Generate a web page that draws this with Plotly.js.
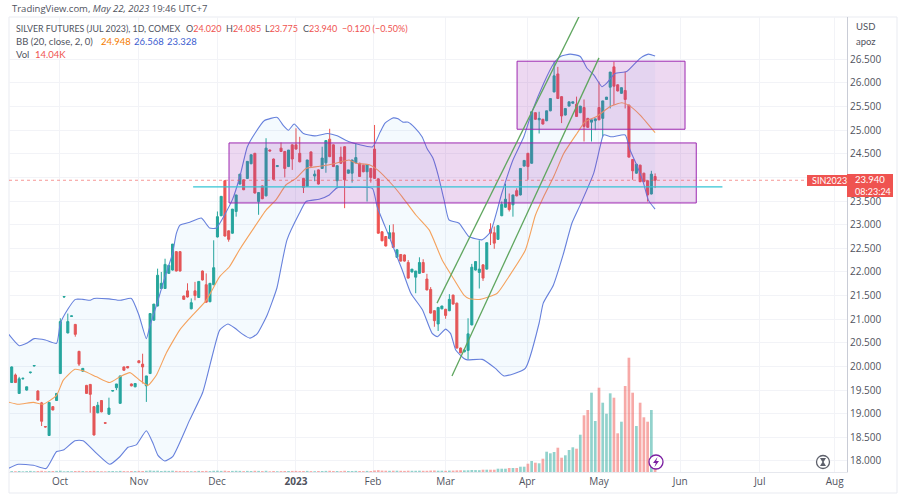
<!DOCTYPE html>
<html><head><meta charset="utf-8">
<script src="https://cdn.plot.ly/plotly-3.0.1.min.js"></script>
<style>html,body{margin:0;padding:0;background:#fff}#c{width:900px;height:500px}</style>
</head><body><div id="c"></div>
<script>
const opens=[19.66,19.82,19.43,19.74,19.50,19.87,20.01,19.48,19.23,18.73,18.54,19.15,19.28,19.85,21.47,20.71,21.06,20.89,20.32,19.90,
19.60,19.62,19.15,19.02,19.28,18.81,18.99,19.48,19.55,19.22,19.99,20.00,19.63,19.57,20.12,20.05,19.59,19.85,20.98,21.28,
21.65,21.65,21.97,22.04,22.43,22.43,21.49,21.60,21.22,21.60,21.46,22.02,21.73,21.37,21.73,22.74,23.19,23.93,22.87,22.82,
23.28,23.86,23.95,23.98,24.29,24.51,23.49,23.82,23.61,24.58,24.39,24.23,24.62,24.55,24.23,24.69,24.69,24.51,23.98,23.81,
24.54,24.03,24.16,24.19,24.31,24.81,24.69,23.93,24.43,24.65,24.09,24.09,24.31,24.30,24.26,24.12,24.19,24.60,23.97,22.85,
22.75,22.71,22.83,22.31,22.37,22.36,22.20,22.00,21.89,21.97,22.20,21.85,21.63,21.18,20.90,21.22,21.21,21.18,21.51,21.34,
20.39,20.31,20.34,20.88,22.04,21.99,22.15,22.06,22.90,22.83,22.69,23.19,23.37,23.47,23.42,23.72,23.63,24.24,24.51,24.30,
25.37,25.22,25.23,25.20,25.41,25.81,26.19,25.71,25.32,25.51,25.57,25.55,25.37,25.48,25.25,25.17,25.20,25.48,25.25,25.65,
25.91,26.34,25.96,25.78,25.84,25.53,24.38,24.09,24.26,24.09,23.93,23.65,24.02];
const highs=[20.00,19.85,19.78,19.76,19.57,19.88,20.03,19.50,19.25,18.74,19.24,19.16,19.43,21.02,21.48,21.12,21.07,20.90,20.33,19.96,
19.61,19.63,19.16,19.25,19.29,18.82,19.34,19.50,19.63,19.80,20.00,20.01,19.64,19.64,20.13,20.27,19.80,21.12,21.32,22.07,
22.00,22.28,22.14,22.59,22.44,22.44,21.50,21.76,21.44,21.79,21.80,22.03,21.97,21.76,22.67,23.28,23.60,23.94,22.88,23.33,
23.63,24.07,23.96,24.34,24.48,24.52,23.68,23.83,24.83,24.59,24.40,24.26,24.74,24.56,24.58,24.70,25.04,24.86,23.99,24.37,
24.55,24.15,24.17,24.65,24.78,25.03,24.70,24.25,24.65,24.66,24.16,24.37,24.72,24.31,24.27,24.27,24.20,25.11,23.98,22.86,
22.76,22.99,23.01,22.47,22.38,22.37,22.25,22.06,22.02,22.31,22.27,21.96,21.68,21.19,21.25,21.28,21.22,21.53,21.52,21.35,
20.40,20.35,21.02,22.17,22.22,22.67,22.16,22.62,23.03,22.96,22.98,23.49,23.87,23.66,23.63,23.77,24.19,24.36,24.52,25.39,
25.38,25.39,25.24,25.41,25.67,26.45,26.34,25.72,25.46,25.60,25.60,25.71,25.51,25.65,25.26,25.22,25.24,26.03,25.62,25.70,
26.23,26.45,25.97,25.90,26.24,25.54,24.39,24.28,24.27,24.10,23.94,24.14,24.085];
const lows=[19.65,19.65,19.42,19.72,19.49,19.85,20.00,19.28,18.74,18.71,18.53,19.07,19.27,19.84,21.45,20.70,21.05,20.63,20.01,19.89,
19.42,19.02,18.54,19.01,19.03,18.79,18.98,19.47,19.50,19.21,19.91,19.96,19.58,19.56,20.07,19.64,19.25,19.84,20.97,21.27,
21.64,21.64,21.96,22.03,22.01,22.01,21.41,21.46,21.21,21.40,21.45,21.82,21.35,21.36,21.72,22.73,23.18,22.75,22.64,22.81,
23.17,23.85,23.73,23.97,24.28,23.66,23.21,23.54,23.60,24.55,23.95,24.22,24.54,24.00,24.22,24.16,24.59,24.32,23.67,23.80,
24.23,23.92,23.85,24.18,24.10,24.43,24.22,23.77,24.29,23.35,24.08,23.89,24.30,24.01,24.11,23.49,23.89,23.97,22.81,22.65,
22.54,22.70,22.51,22.30,22.22,22.22,21.86,21.99,21.55,21.96,21.98,21.61,21.12,20.84,20.75,21.21,21.01,21.17,21.31,20.38,
20.28,20.30,20.15,20.87,22.03,21.65,21.81,22.05,22.57,22.49,22.68,23.18,23.36,23.28,23.17,23.60,23.62,24.23,23.95,24.29,
25.22,24.93,25.12,25.19,25.40,25.80,25.66,25.15,25.31,25.50,25.56,25.28,25.36,24.76,25.05,24.76,25.00,25.21,24.86,25.64,
25.46,25.53,25.82,25.77,25.46,24.42,23.95,24.08,23.90,23.90,23.49,23.64,23.775];
const closes=[19.99,19.66,19.74,19.75,19.57,19.88,20.02,19.29,18.84,18.72,19.24,19.08,19.43,20.95,21.48,20.95,21.07,20.68,20.05,19.96,
19.43,19.41,18.55,19.18,19.04,18.80,19.12,19.49,19.63,19.80,19.92,19.97,19.59,19.64,20.08,19.99,19.80,21.12,21.32,21.93,
21.76,22.16,22.14,22.59,22.02,22.02,21.42,21.47,21.35,21.50,21.80,21.83,21.36,21.76,22.09,23.17,23.60,22.76,22.69,23.33,
23.63,24.07,23.74,24.34,24.48,23.67,23.68,23.55,24.62,24.56,23.96,24.25,24.55,24.19,24.58,24.39,24.60,24.33,23.79,24.37,
24.24,24.07,23.86,24.41,24.78,24.44,24.23,24.25,24.30,23.95,24.16,24.37,24.42,24.02,24.12,24.27,24.00,23.98,22.82,22.66,
22.55,22.83,22.52,22.47,22.23,22.23,21.87,22.06,22.02,22.20,21.99,21.62,21.13,20.97,21.25,21.28,21.08,21.42,21.32,20.39,
20.29,20.35,20.69,22.10,22.22,22.06,21.87,22.62,22.82,22.61,22.98,23.43,23.54,23.32,23.63,23.61,24.19,24.36,24.23,25.39,
25.23,25.25,25.13,25.41,25.67,26.15,25.67,25.30,25.46,25.60,25.60,25.29,25.51,25.08,25.06,25.22,25.24,25.22,25.62,25.70,
26.23,25.93,25.83,25.90,25.65,24.43,24.14,24.28,23.91,23.91,23.63,24.07,23.94];
const volumesK=[0.9,0.8,1.0,0.7,0.9,1.1,0.8,1.0,1.2,0.8,0.9,1.0,1.1,1.3,0.7,0.9,0.8,1.0,1.1,0.9,
0.8,1.0,1.1,0.9,0.8,0.7,0.9,1.0,0.8,1.1,0.9,0.8,1.0,0.9,1.1,1.0,1.2,1.5,1.2,1.3,
1.0,1.2,1.1,1.3,1.1,1.0,0.9,1.0,0.8,0.9,1.1,1.0,1.1,0.9,1.2,1.3,1.1,1.3,1.0,1.1,
1.2,1.1,0.9,1.1,1.0,1.2,1.1,0.9,1.2,0.7,1.0,0.8,0.9,1.0,1.0,1.1,1.1,0.9,1.0,1.1,
0.9,0.8,1.0,1.0,1.1,1.2,1.0,1.0,0.9,1.2,1.0,1.0,1.1,1.0,0.9,1.1,1.0,1.5,1.8,1.4,
1.3,1.2,1.3,1.3,1.2,1.1,1.3,1.2,1.2,1.3,1.2,1.2,1.4,1.5,1.3,1.3,1.2,1.4,1.4,1.6,
1.7,1.6,1.7,2.0,1.9,1.8,2.3,2.3,2.3,2.3,3.3,3.3,3.3,4,4,4,5.3,5.3,8.3,11,
9.3,8.7,13.3,20.3,18.7,20,24.3,14.3,16.7,22,24.7,23.3,37.3,56.7,62,79.3,51,84.3,69.3,58.3,
78.7,74.3,38.7,50.3,86,114.3,79.3,46,69.3,54.7,50.3,62,14.04];

const midIdx=[-1,1.8,5.8,8.4,12,13.8,16.9,19.1,22.7,26.2,28.9,31.6,34.2,36.4,38.7,41.3,44.9,47.6,52,55.6,58.2,60.9,64.4,68,70.7,73.3,76,78.7,81.8,84.9,87.1,90.2,92,95.6,97.8,101.8,104.4,108,111.6,115.1,117.8,120.9,122.2,125.3,129.8,132.9,137.3,140,142.2,144.9,147.6,151.1,153.3,156.4,160,163.1,164.9,168,172];
const midVals=[19.25,19.20,19.24,19.20,19.39,19.71,19.94,19.91,19.78,19.66,19.78,19.87,19.71,19.60,19.82,20.28,20.77,21.02,21.40,21.90,22.11,22.47,22.89,23.31,23.53,23.84,23.98,24.19,24.23,24.27,24.31,24.37,24.30,24.27,24.16,23.84,23.59,23.21,22.89,22.25,21.90,21.51,21.44,21.42,21.55,21.90,22.46,23.20,23.59,24.02,24.51,24.93,25.18,25.29,25.50,25.58,25.53,25.32,24.948];
const upIdx=[-1,2,4,6,9,12,13,15,17,19,21,22,26,29,32,34,36,37,39,41,43,44,45,47.6,50.7,52.9,54.7,59,61,63,65,67.5,71,72.5,74,75.5,78,81,84.5,87,90,96.5,98.5,99.8,102,103.3,104.6,106,107.8,109.7,111,112.6,114,115.6,116.9,119.6,122.2,125.8,128,131,134,136.9,139.1,142.2,144.9,146.7,149.3,152,153.8,155.6,157.8,159,161.3,164.4,168,170.2,172];
const upVals=[20.70,20.44,20.49,20.59,20.56,20.49,20.91,21.21,21.42,21.42,21.40,21.44,21.43,21.40,21.44,21.09,20.59,20.87,21.37,21.90,22.39,22.81,22.99,23.05,23.14,22.93,22.93,23.53,24.02,24.65,24.93,25.20,25.27,25.11,25.00,25.13,24.93,24.88,24.93,24.88,24.76,24.65,24.96,25.15,25.26,25.24,25.17,25.17,25.05,24.86,24.62,24.41,24.05,23.52,23.10,23.03,22.75,22.68,22.85,23.66,24.37,24.86,25.39,25.99,26.41,26.56,26.61,26.56,26.31,26.17,25.92,25.99,26.20,26.24,26.52,26.61,26.568];
const lowIdx=[-1,1.8,5.8,9.2,12,13.8,16.9,19.1,22.7,26.2,28.9,31.1,33.3,36,37.8,39.1,40.9,43.1,47.6,51.1,53.8,55.6,57.8,59.7,61.6,63.7,65.6,68.3,70.9,72.3,73.6,76.9,78.7,82.2,84.9,87.1,90.2,96.4,97.7,100.9,104.4,106.7,109.8,112.4,113.8,116,117.3,118.7,120.9,121.8,125.8,129.3,131.6,137.3,141,142.1,144.8,147.4,149.8,152,155.6,157.3,158.2,160.4,164,165.3,167.1,168.9,170.2,172];
const lowVals=[17.84,17.93,17.91,17.84,18.20,18.23,18.43,18.43,18.16,17.93,18.09,18.29,18.34,18.64,18.37,18.12,18.00,18.10,18.87,19.46,20.28,20.77,20.90,20.81,20.69,20.60,20.69,21.09,21.66,22.21,22.68,23.24,23.49,23.54,23.63,23.79,23.79,23.77,23.38,22.75,22.04,21.55,21.20,20.70,20.63,20.79,20.70,20.35,20.17,20.14,20.15,19.96,19.80,19.96,20.92,21.34,21.72,22.36,23.04,23.42,24.09,24.65,24.90,24.86,24.90,24.58,24.26,23.88,23.52,23.328];

const priceTicks=[18,18.5,19,19.5,20,20.5,21,21.5,22,22.5,23,23.5,24,24.5,25,25.5,26,26.5];
const priceLabels=['18.000','18.500','19.000','19.500','20.000','20.500','21.000','21.500','22.000','22.500','23.000','23.500','','24.500','25.000','25.500','26.000','26.500'];
const monthTicks=[12.9,34,54.9,76,96.6,116,137.8,157,178.7,200,220];
const monthLabels=['Oct','Nov','Dec','<b>2023</b>','Feb','Mar','Apr','May','Jun','Jul','Aug'];
const lowerBox=[58.1,183,23.46,24.73];
const upperBox=[135.1,180,25.02,26.46];
const supportLevel=[48.5,190,23.80];
const channelA=[113.7,21.34,151.9,27.44];
const channelB=[117.7,19.80,157,26.53];
const lastClose=23.94;

const idx=opens.map((_,i)=>i);
const UP='#26a69a',DOWN='#ef5350',BAND='#6680dc',MID='#f5a25d';
const L=9,R=847,T=17,B=472;
const px=v=>(v-L)/(R-L), py=v=>(B-v)/(B-T);

const traces=[
 {type:'bar',x:idx,y:volumesK,yaxis:'y2',width:0.72,hoverinfo:'skip',
  marker:{color:idx.map(i=>closes[i]>=opens[i]?'rgba(38,166,154,0.5)':'rgba(239,83,80,0.5)'),line:{width:0}}},
 {type:'scatter',mode:'lines',x:upIdx,y:upVals,line:{color:BAND,width:1.1,shape:'spline',smoothing:0.5},hoverinfo:'skip'},
 {type:'scatter',mode:'lines',x:lowIdx,y:lowVals,line:{color:BAND,width:1.1,shape:'spline',smoothing:0.5},hoverinfo:'skip',fill:'tonexty',fillcolor:'rgba(33,150,243,0.05)'},
 {type:'candlestick',x:idx,open:opens,high:highs,low:lows,close:closes,whiskerwidth:0,hoverinfo:'skip',
  increasing:{line:{color:UP,width:1},fillcolor:UP},decreasing:{line:{color:DOWN,width:1},fillcolor:DOWN}},
 {type:'scatter',mode:'lines',x:midIdx,y:midVals,line:{color:MID,width:1.1,shape:'spline',smoothing:0.5},hoverinfo:'skip'}
];

function pxCircle(cx,cy,r,stroke){return {type:'circle',xref:'paper',yref:'paper',x0:px(cx-r),x1:px(cx+r),y0:py(cy+r),y1:py(cy-r),fillcolor:'#fff',line:{color:stroke,width:1.3}}}
function pxPoly(pts,fill){return {type:'path',xref:'paper',yref:'paper',path:pts.map((p,k)=>(k?'L':'M')+px(p[0])+','+py(p[1])).join(' ')+' Z',fillcolor:fill,line:{width:0}}}
function pxRect(x0,y0,x1,y1,fill){return {type:'rect',xref:'paper',yref:'paper',x0:px(x0),x1:px(x1),y0:py(y1),y1:py(y0),fillcolor:fill,line:{width:0}}}

const BOX='rgba(156,39,176,0.18)';
const shapes=[
 {type:'rect',xref:'paper',yref:'paper',x0:0,x1:px(897),y0:py(493),y1:1,line:{color:'#e9ebf1',width:1},layer:'below'},
 {type:'rect',xref:'x',yref:'y',x0:lowerBox[0],x1:lowerBox[1],y0:lowerBox[2],y1:lowerBox[3],fillcolor:BOX,line:{color:'#9c27b0',width:1}},
 {type:'rect',xref:'x',yref:'y',x0:upperBox[0],x1:upperBox[1],y0:upperBox[2],y1:upperBox[3],fillcolor:BOX,line:{color:'#9c27b0',width:1}},
 {type:'line',xref:'x',yref:'y',x0:supportLevel[0],x1:supportLevel[1],y0:supportLevel[2],y1:supportLevel[2],line:{color:'#35c4d4',width:1.2}},
 {type:'line',xref:'x',yref:'y',x0:channelA[0],y0:channelA[1],x1:channelA[2],y1:channelA[3],line:{color:'#5fa65f',width:1.3}},
 {type:'line',xref:'x',yref:'y',x0:channelB[0],y0:channelB[1],x1:channelB[2],y1:channelB[3],line:{color:'#5fa65f',width:1.3}},
 {type:'line',xref:'paper',yref:'y',x0:0,x1:1,y0:lastClose,y1:lastClose,line:{color:'rgba(239,83,80,0.85)',width:0.7,dash:'dot'}},
 pxRect(807,175,847,186,'#ef5350'),
 pxRect(847,174,893,197,'#ef5350'),
 pxCircle(656,462,7,'#7b1fa2'),
 pxPoly([[657.5,457],[653,463],[655.8,463],[654.5,467],[659,461],[656.2,461]],'#7b1fa2'),
 pxCircle(823,462,6.5,'#5d606b'),
 pxPoly([[820,458],[826,458],[823.6,462],[826,466],[820,466],[822.4,462]],'#5d606b')
];

const TXT='#50535e',HEAD='"Lato","Open Sans",sans-serif',OPEN='"Open Sans",sans-serif';
function note(x,y,text,color,size,family){return {xref:'paper',yref:'paper',x:px(x),y:py(y),xanchor:'left',yanchor:'middle',text:text,showarrow:false,font:{color:color,size:size||9,family:family||HEAD},align:'left'}}
const annotations=[
 note(10,8,'TradingView.com, <i>May 22, 2023</i> 19:46 UTC+7',TXT,9.5,OPEN),
 note(14,28,'SILVER FUTURES (JUL 2023), 1D, COMEX',TXT,8.8),
 note(184,28,'O<span style="color:#ef5350">24.020</span>',TXT),
 note(224,28,'H<span style="color:#ef5350">24.085</span>',TXT),
 note(263,28,'L<span style="color:#ef5350">23.775</span>',TXT),
 note(301,28,'C<span style="color:#ef5350">23.940</span>',TXT),
 note(340,28,'−0.120 (−0.50%)','#ef5350'),
 note(14,41,'BB (20, close, 2, 0)',TXT,9.5),
 note(99,41,'24.948','#f57c00',9.5),
 note(132,41,'26.568','#3d5ed0',9.5),
 note(165,41,'23.328','#3d5ed0',9.5),
 note(14,54,'Vol',TXT,9.5),
 note(33,54,'14.04K','#ef5350',9.5),
 note(854,26,'USD',TXT,9.5),
 note(854,41,'apoz',TXT,9.5),
 note(810,180.5,'SIN2023','#fff',9),
 note(853,180,'23.940','#fff',9.5),
 note(853,191,'08:23:24','#fff',9)
];

const layout={
 width:900,height:500,margin:{l:L,r:900-R,t:T,b:500-B,pad:0},paper_bgcolor:'#fff',plot_bgcolor:'#fff',
 showlegend:false,dragmode:false,boxgap:0.22,bargap:0.28,
 font:{family:'"Open Sans","Noto Sans",sans-serif',color:TXT,size:9.5},
 xaxis:{type:'linear',range:[-0.72,223.3],tickmode:'array',tickvals:monthTicks,ticktext:monthLabels,showgrid:true,gridcolor:'#f2f3f7',gridwidth:1,
  zeroline:false,showline:true,linecolor:'#e6e8ee',ticks:'',rangeslider:{visible:false},tickfont:{size:10,color:TXT},fixedrange:true},
 yaxis:{side:'right',range:[17.767,27.395],tickmode:'array',tickvals:priceTicks,ticktext:priceLabels,showgrid:true,gridcolor:'#f2f3f7',gridwidth:1,
  zeroline:false,showline:true,linecolor:'#c9ccd6',ticks:'',tickfont:{size:10,color:TXT},fixedrange:true},
 yaxis2:{overlaying:'y',side:'right',range:[0,455],visible:false,fixedrange:true},
 shapes:shapes,annotations:annotations
};
Plotly.newPlot('c',traces,layout,{displayModeBar:false,staticPlot:true});
</script></body></html>
